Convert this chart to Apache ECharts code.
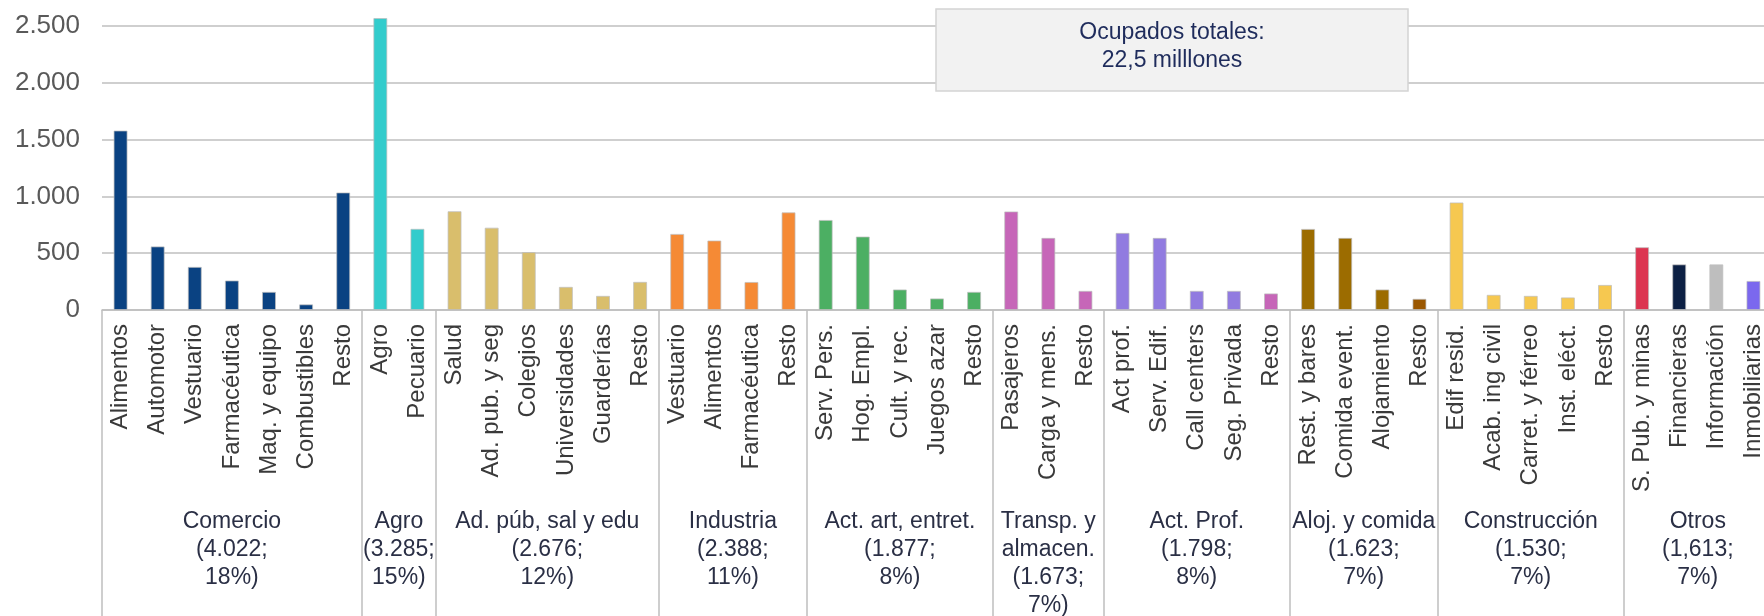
<!DOCTYPE html>
<html>
<head>
<meta charset="utf-8">
<script src="https://cdn.jsdelivr.net/npm/echarts@6/dist/echarts.min.js"></script>
<style>
  html, body { margin: 0; padding: 0; background: #fff; }
  #main { width: 1764px; height: 616px; }
</style>
</head>
<body>
<div id="main"></div>
<script>
// ramas (subsectores), en miles de ocupados
var categories = [
  'Alimentos', 'Automotor', 'Vestuario', 'Farmacéutica', 'Maq. y equipo', 'Combustibles', 'Resto',
  'Agro', 'Pecuario',
  'Salud', 'Ad. pub. y seg', 'Colegios', 'Universidades', 'Guarderías', 'Resto',
  'Vestuario', 'Alimentos', 'Farmacéutica', 'Resto',
  'Serv. Pers.', 'Hog. Empl.', 'Cult. y rec.', 'Juegos azar', 'Resto',
  'Pasajeros', 'Carga y mens.', 'Resto',
  'Act prof.', 'Serv. Edif.', 'Call centers', 'Seg. Privada', 'Resto',
  'Rest. y bares', 'Comida event.', 'Alojamiento', 'Resto',
  'Edif resid.', 'Acab. ing civil', 'Carret. y férreo', 'Inst. eléct.', 'Resto',
  'S. Pub. y minas', 'Financieras', 'Información', 'Inmobiliarias'
];
var values = [
  1580, 560, 380, 260, 160, 50, 1035,
  2570, 715,
  870, 725, 510, 204, 125, 248,
  670, 612, 247, 860,
  793, 647, 181, 102, 160,
  868, 635, 169,
  679, 635, 169, 169, 146,
  714, 635, 181, 99,
  947, 134, 125, 111, 221,
  553, 402, 402, 256
];
var barColors = [
  '#0A4282', '#0A4282', '#0A4282', '#0A4282', '#0A4282', '#0A4282', '#0A4282',
  '#33CCCC', '#33CCCC',
  '#D9BE6C', '#D9BE6C', '#D9BE6C', '#D9BE6C', '#D9BE6C', '#D9BE6C',
  '#F58A35', '#F58A35', '#F58A35', '#F58A35',
  '#4CAF63', '#4CAF63', '#4CAF63', '#4CAF63', '#4CAF63',
  '#C666B8', '#C666B8', '#C666B8',
  '#917BE0', '#917BE0', '#917BE0', '#917BE0', '#C666B8',
  '#9C6C00', '#9C6C00', '#9C6C00', '#9B5700',
  '#F6C850', '#F6C850', '#F6C850', '#F6C850', '#F6C850',
  '#DC3450', '#0C2044', '#BEBEBE', '#7B68EE'
];
// sectores
var groupNames = [
  'Comercio\n(4.022;\n18%)',
  'Agro\n(3.285;\n15%)',
  'Ad. púb, sal y edu\n(2.676;\n12%)',
  'Industria\n(2.388;\n11%)',
  'Act. art, entret.\n(1.877;\n8%)',
  'Transp. y\nalmacen.\n(1.673;\n7%)',
  'Act. Prof.\n(1.798;\n8%)',
  'Aloj. y comida\n(1.623;\n7%)',
  'Construcción\n(1.530;\n7%)',
  'Otros\n(1,613;\n7%)'
];
var groupSizes = [7, 2, 6, 4, 5, 3, 5, 4, 5, 4];
var yTicks = [0, 500, 1000, 1500, 2000, 2500];

var boundaries = [0];
var centers = [];
groupSizes.forEach(function (n) {
  var start = boundaries[boundaries.length - 1];
  centers.push(start + n / 2);
  boundaries.push(start + n);
});

var FONT = 'Liberation Sans, Arial, sans-serif';
var GRAY = '#BFBFBF';

var chart = echarts.init(document.getElementById('main'));

chart.setOption({
  animation: false,
  grid: {
    left: 102,
    top: 26,
    width: 1670,
    bottom: 306,
    outerBoundsMode: 'none'
  },
  xAxis: [{
    type: 'category',
    data: categories,
    axisLine: { lineStyle: { color: GRAY, width: 1.5 } },
    axisTick: {
      interval: 0,
      length: 184,
      lineStyle: { color: GRAY, width: 1.5 }
    },
    axisLabel: {
      interval: 0,
      rotate: 90,
      margin: 14,
      fontSize: 24,
      fontFamily: FONT,
      color: '#3A3A3A'
    }
  }, {
    type: 'value',
    position: 'bottom',
    min: 0,
    max: categories.length,
    axisLine: { show: false },
    splitLine: { show: false },
    axisTick: {
      customValues: boundaries,
      length: 306,
      lineStyle: { color: GRAY, width: 1.5 }
    },
    axisLabel: {
      customValues: centers,
      margin: 198,
      fontSize: 23,
      lineHeight: 28,
      fontFamily: FONT,
      color: '#2A2F45',
      formatter: function (v) {
        var i = centers.indexOf(v);
        return i >= 0 ? groupNames[i] : '';
      }
    }
  }],
  yAxis: {
    type: 'value',
    min: yTicks[0],
    max: yTicks[yTicks.length - 1],
    interval: 500,
    axisLine: { show: false },
    axisTick: { show: false },
    splitLine: { lineStyle: { color: GRAY, width: 1.5 } },
    axisLabel: {
      margin: 22,
      fontSize: 26,
      fontFamily: FONT,
      color: '#595959',
      formatter: function (v) {
        return String(v).replace(/\B(?=(\d{3})+(?!\d))/g, '.');
      }
    }
  },
  series: [{
    type: 'bar',
    xAxisIndex: 0,
    barWidth: 14,
    clip: false,
    data: values.map(function (v, i) {
      return {
        value: v,
        itemStyle: { color: barColors[i], borderColor: 'rgba(190,190,190,0.7)', borderWidth: 1 }
      };
    })
  }],
  graphic: [{
    type: 'rect',
    shape: { x: 936, y: 9, width: 472, height: 82 },
    style: { fill: '#F2F2F2', stroke: '#D4D4D4', lineWidth: 1.5 },
    z: 10
  }, {
    type: 'text',
    x: 1172,
    y: 47,
    style: {
      text: 'Ocupados totales:\n22,5 milllones',
      font: '23px ' + FONT,
      fill: '#1F2C5C',
      align: 'center',
      verticalAlign: 'middle',
      lineHeight: 28
    },
    z: 11
  }]
});
</script>
</body>
</html>
